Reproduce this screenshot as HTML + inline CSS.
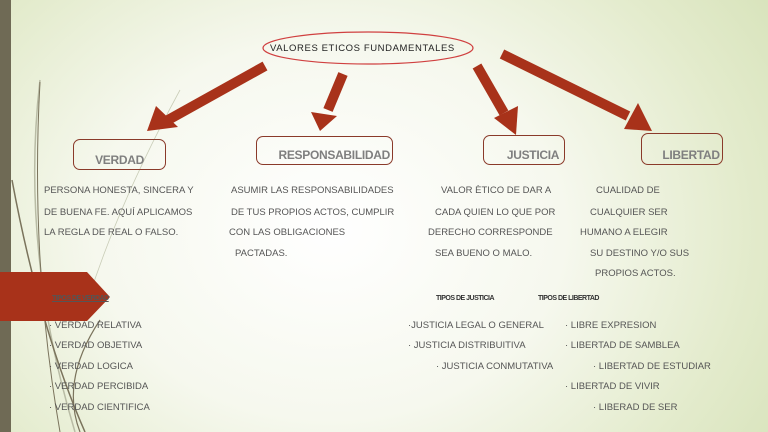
<!DOCTYPE html>
<html><head><meta charset="utf-8"><style>
body{margin:0}
#p{position:relative;width:768px;height:432px;overflow:hidden;font-family:"Liberation Sans",sans-serif;
background:radial-gradient(ellipse 520px 420px at 330px 230px,#ffffff 0%,#f6f8ee 45%,#e3ebcc 80%,#d9e4bd 100%);}
.t{position:absolute;font-size:9.5px;color:#555;white-space:nowrap;letter-spacing:0}
.b{position:absolute;border:1.3px solid #8a3a2a;border-radius:7px;box-sizing:border-box;color:#7f7f7f;font-weight:bold;font-size:12px;letter-spacing:-0.3px;text-align:center}
.b span{position:absolute;bottom:2px;left:0;right:0}
</style></head><body><div id="p">
<div style="position:absolute;left:0;top:0;width:11px;height:432px;background:#6f6a55"></div>
<svg width="768" height="432" style="position:absolute;left:0;top:0">
<g fill="none" stroke="#7a735c" stroke-width="1.5">
<path d="M40 80 Q20 250 75 432" stroke="#b9bca5"/>
<path d="M12 180 Q40 330 85 432"/>
<path d="M40 82 Q30 260 60 432" stroke-width="1"/>
<path d="M100 320 Q60 380 80 432" stroke-width="1.2"/>
<path d="M180 90 Q120 200 88 300" stroke="#c9cdb7" stroke-width="0.8"/>
</g>
<polygon points="0,272 87,272 110,297 87,321 0,321" fill="#a8321a"/>
<ellipse cx="368" cy="48" rx="105" ry="16" fill="none" stroke="#d04040" stroke-width="1.2"/>
<g stroke="#a8321a" stroke-width="10" fill="#a8321a">
<line x1="265" y1="66" x2="168" y2="120"/>
<line x1="343" y1="74" x2="328" y2="110"/>
<line x1="477" y1="66" x2="504" y2="113"/>
<line x1="502" y1="54" x2="628" y2="116"/>
</g>
<g fill="#a8321a">
<polygon points="147,131 156,106 178,127"/>
<polygon points="320,131 311,112 337,116"/>
<polygon points="516,135 494,118 518,106"/>
<polygon points="652,131 624,129 638,103"/>
</g>
</svg>
<div class="t" style="left:270px;top:43px;font-size:9.5px;color:#222;letter-spacing:0.6px">VALORES ETICOS FUNDAMENTALES</div>
<div class="b" style="left:73px;top:139px;width:93px;height:31px"><span>VERDAD</span></div>
<div class="b" style="left:256px;top:136px;width:137px;height:29px"><span style="text-align:right;padding-right:2px">RESPONSABILIDAD</span></div>
<div class="b" style="left:483px;top:135px;width:82px;height:30px"><span style="padding-left:18px">JUSTICIA</span></div>
<div class="b" style="left:641px;top:133px;width:82px;height:32px"><span style="padding-left:18px">LIBERTAD</span></div>
<div class="t" style="left:44px;top:185px">PERSONA HONESTA, SINCERA Y</div>
<div class="t" style="left:44px;top:207px">DE BUENA FE. AQUÍ APLICAMOS</div>
<div class="t" style="left:44px;top:227px">LA REGLA DE REAL O FALSO.</div>
<div class="t" style="left:231px;top:185px">ASUMIR LAS RESPONSABILIDADES</div>
<div class="t" style="left:231px;top:207px">DE TUS PROPIOS ACTOS, CUMPLIR</div>
<div class="t" style="left:229px;top:227px">CON LAS OBLIGACIONES</div>
<div class="t" style="left:235px;top:248px">PACTADAS.</div>
<div class="t" style="left:441px;top:185px">VALOR ÈTICO DE DAR A</div>
<div class="t" style="left:435px;top:207px">CADA QUIEN LO QUE POR</div>
<div class="t" style="left:428px;top:227px">DERECHO CORRESPONDE</div>
<div class="t" style="left:435px;top:248px">SEA BUENO O MALO.</div>
<div class="t" style="left:596px;top:185px">CUALIDAD DE</div>
<div class="t" style="left:590px;top:207px">CUALQUIER SER</div>
<div class="t" style="left:580px;top:227px">HUMANO A ELEGIR</div>
<div class="t" style="left:590px;top:248px">SU DESTINO Y/O SUS</div>
<div class="t" style="left:595px;top:268px">PROPIOS ACTOS.</div>
<div class="t" style="left:52px;top:295px;font-size:7px;font-weight:bold;color:#555;letter-spacing:-0.5px;text-decoration:underline">TIPOS DE VERDAD</div>
<div class="t" style="left:436px;top:295px;font-size:7px;font-weight:bold;color:#333;letter-spacing:-0.5px">TIPOS DE JUSTICIA</div>
<div class="t" style="left:538px;top:295px;font-size:7px;font-weight:bold;color:#333;letter-spacing:-0.5px">TIPOS DE LIBERTAD</div>
<div class="t" style="left:49px;top:320px">· VERDAD RELATIVA</div>
<div class="t" style="left:49px;top:340px">· VERDAD OBJETIVA</div>
<div class="t" style="left:49px;top:361px">· VERDAD LOGICA</div>
<div class="t" style="left:49px;top:381px">· VERDAD PERCIBIDA</div>
<div class="t" style="left:49px;top:402px">· VERDAD CIENTIFICA</div>
<div class="t" style="left:408px;top:320px">·JUSTICIA LEGAL O GENERAL</div>
<div class="t" style="left:408px;top:340px">· JUSTICIA DISTRIBUITIVA</div>
<div class="t" style="left:436px;top:361px">· JUSTICIA CONMUTATIVA</div>
<div class="t" style="left:565px;top:320px">· LIBRE EXPRESION</div>
<div class="t" style="left:565px;top:340px">· LIBERTAD DE SAMBLEA</div>
<div class="t" style="left:593px;top:361px">· LIBERTAD DE ESTUDIAR</div>
<div class="t" style="left:565px;top:381px">· LIBERTAD DE VIVIR</div>
<div class="t" style="left:593px;top:402px">· LIBERAD DE SER</div>
</div></body></html>
